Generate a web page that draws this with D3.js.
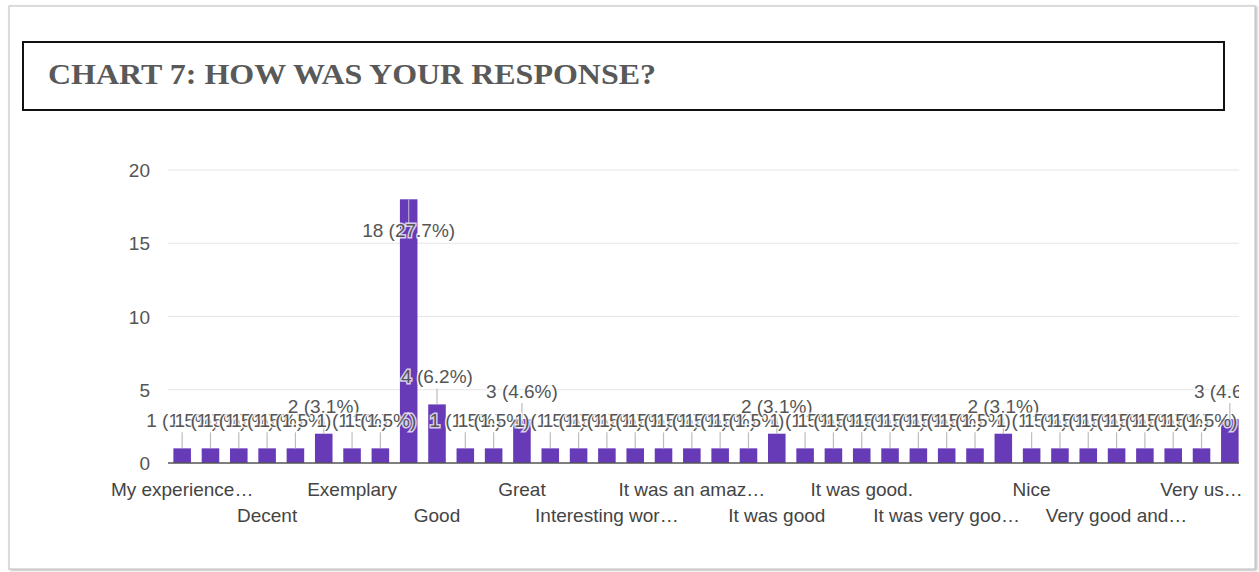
<!DOCTYPE html>
<html>
<head>
<meta charset="utf-8">
<script src="https://cdn.jsdelivr.net/npm/d3@7/dist/d3.min.js"></script>
<style>
  html, body { margin: 0; padding: 0; background: #fff; }
  svg { display: block; }
  .lbl { font-family: Arial, "Liberation Sans", sans-serif; }
  .title { font-family: "Liberation Serif", "Times New Roman", serif; font-weight: bold; }
</style>
</head>
<body>
<div id="chart"></div>
<script>
// Google Forms style column chart: "How was your response?"
const TITLE = 'CHART 7: HOW WAS YOUR RESPONSE?';

// answers in form order; only every third name is printed on the axis
const categories = [
  'My experience…', null, null, 'Decent', null, null, 'Exemplary', null, null,
  'Good', null, null, 'Great', null, null, 'Interesting wor…', null, null,
  'It was an amaz…', null, null, 'It was good', null, null, 'It was good.', null, null,
  'It was very goo…', null, null, 'Nice', null, null, 'Very good and…', null, null,
  'Very us…', null
];
const counts = [
  1, 1, 1, 1, 1, 2, 1, 1, 18, 4, 1, 1, 3, 1, 1, 1, 1, 1, 1,
  1, 1, 2, 1, 1, 1, 1, 1, 1, 1, 2, 1, 1, 1, 1, 1, 1, 1, 3
];
const yTicks = [0, 5, 10, 15, 20];

const W = 1259, H = 572;
const plot = { left: 168, right: 1244, top: 170, bottom: 463, clipRight: 1239 };
const total = d3.sum(counts);
const FS = 19;

const svg = d3.select('#chart').append('svg')
  .attr('width', W).attr('height', H).attr('viewBox', `0 0 ${W} ${H}`);

const defs = svg.append('defs');
const shadow = defs.append('filter').attr('id', 'shadow')
  .attr('x', '-2%').attr('y', '-2%').attr('width', '104%').attr('height', '104%');
shadow.append('feDropShadow').attr('dx', 1.5).attr('dy', 1).attr('stdDeviation', 1.2)
  .attr('flood-color', '#888').attr('flood-opacity', 0.6);
defs.append('clipPath').attr('id', 'plotclip').append('rect')
  .attr('x', 0).attr('y', 0).attr('width', plot.clipRight).attr('height', H);

// page frame + title box
svg.append('rect')
  .attr('x', 9).attr('y', 6).attr('width', 1246).attr('height', 563)
  .attr('fill', '#fff').attr('stroke', '#c8c8c8').attr('stroke-width', 1.2)
  .attr('filter', 'url(#shadow)');
svg.append('rect')
  .attr('x', 23).attr('y', 42).attr('width', 1201).attr('height', 68)
  .attr('fill', '#fff').attr('stroke', '#111').attr('stroke-width', 2);
svg.append('text')
  .attr('class', 'title')
  .attr('x', 48).attr('y', 84)
  .attr('font-size', 30)
  .attr('fill', '#595959')
  .attr('textLength', 608).attr('lengthAdjust', 'spacingAndGlyphs')
  .text(TITLE);

const x = d3.scaleBand()
  .domain(d3.range(counts.length))
  .range([plot.left, plot.right])
  .paddingInner(0.38).paddingOuter(0.19);
const y = d3.scaleLinear().domain([0, 20]).range([plot.bottom, plot.top]);

const g = svg.append('g').attr('clip-path', 'url(#plotclip)');

// gridlines
g.append('g').selectAll('line').data(yTicks.filter(d => d > 0)).join('line')
  .attr('x1', plot.left).attr('x2', plot.right)
  .attr('y1', d => y(d)).attr('y2', d => y(d))
  .attr('stroke', '#e6e6e6').attr('stroke-width', 1);

// y tick labels
svg.append('g').selectAll('text').data(yTicks).join('text')
  .attr('class', 'lbl')
  .attr('x', 150).attr('y', d => y(d) + 7)
  .attr('text-anchor', 'end').attr('font-size', FS).attr('fill', '#555')
  .text(d => d);

// bars
g.append('g').selectAll('rect').data(counts).join('rect')
  .attr('x', (d, i) => x(i)).attr('width', x.bandwidth())
  .attr('y', d => y(d)).attr('height', d => y(0) - y(d))
  .attr('fill', '#673ab7');

// baseline
g.append('line')
  .attr('x1', plot.left).attr('x2', plot.right)
  .attr('y1', plot.bottom).attr('y2', plot.bottom)
  .attr('stroke', '#555').attr('stroke-width', 1.6);

// annotations: stem + "n (p%)", placed inside the bar when it would hit the top
const ann = counts.map((v, i) => {
  const top = y(v);
  const inside = top - 34 < plot.top;
  return {
    cx: x(i) + x.bandwidth() / 2,
    y1: top, y2: inside ? top + 24 : top - 16,
    base: inside ? top + 38 : top - 21,
    inside,
    label: `${v} (${(v / total * 100).toFixed(1)}%)`
  };
});
const annG = g.append('g');
ann.forEach(a => {
  annG.append('line')
    .attr('x1', a.cx).attr('x2', a.cx).attr('y1', a.y1).attr('y2', a.y2)
    .attr('stroke', a.inside ? '#b7a6d6' : '#bdbdbd').attr('stroke-width', 1.2);
  annG.append('text')
    .attr('class', 'lbl')
    .attr('x', a.cx).attr('y', a.base)
    .attr('text-anchor', 'middle').attr('font-size', FS)
    .attr('fill', '#555')
    .attr('stroke', '#fff').attr('stroke-width', 3).attr('stroke-opacity', 0.75)
    .attr('paint-order', 'stroke')
    .text(a.label);
});

// category labels, alternating rows
svg.append('g').selectAll('text')
  .data(categories.map((c, i) => ({ c, i })).filter(d => d.c))
  .join('text')
  .attr('class', 'lbl')
  .attr('x', d => x(d.i) + x.bandwidth() / 2)
  .attr('y', (d, k) => (k % 2 === 0 ? 496 : 522))
  .attr('text-anchor', 'middle').attr('font-size', FS).attr('fill', '#444')
  .text(d => d.c);
</script>
</body>
</html>
